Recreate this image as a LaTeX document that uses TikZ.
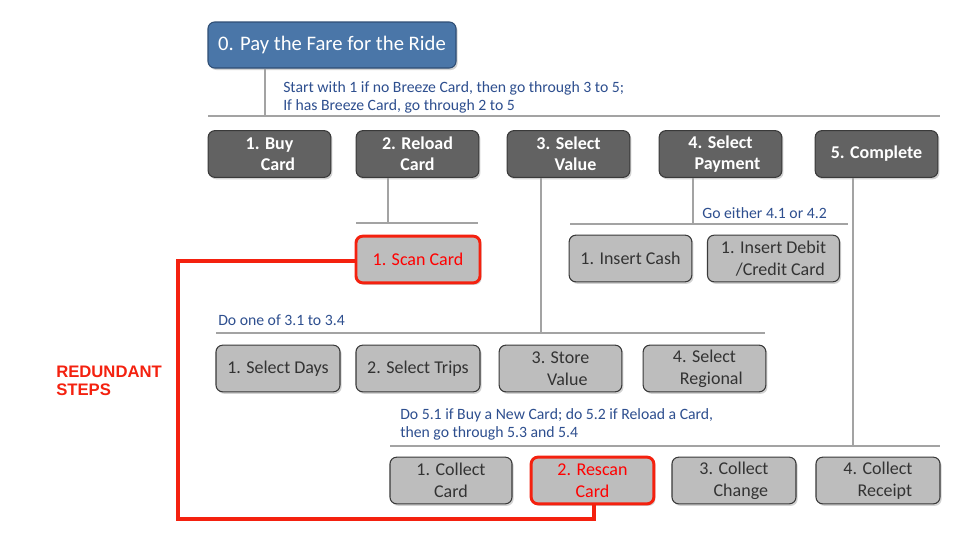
\documentclass[tikz,border=0pt]{standalone}
\usepackage{fontspec}
\setmainfont{Carlito}
\newfontfamily\labelfont{Liberation Sans}
\usetikzlibrary{shadows}
\definecolor{topblue}{HTML}{4A76A8}
\definecolor{topborder}{HTML}{2F4E74}
\definecolor{darkbox}{HTML}{626262}
\definecolor{lightbox}{HTML}{BDBDBD}
\definecolor{boxborder}{HTML}{3A3A3A}
\definecolor{linegray}{HTML}{A3A3A3}
\definecolor{notetext}{HTML}{2E4F8F}
\definecolor{hired}{HTML}{F4210F}
\tikzset{
  boxbase/.style={rounded corners=5pt, draw=boxborder, line width=0.8pt, align=center, inner sep=0pt,
    drop shadow={opacity=0.35, shadow xshift=1.2pt, shadow yshift=-1.5pt}},
  topbox/.style={boxbase, fill=topblue, draw=topborder, text=white, font=\fontsize{15.5}{18}\selectfont, minimum width=186pt, minimum height=34.5pt},
  darkstep/.style={boxbase, fill=darkbox, text=white, font=\bfseries\fontsize{13.5}{15.75}\selectfont, minimum width=92pt, minimum height=35pt},
  lightstep/.style={boxbase, fill=lightbox, text=black!80, font=\fontsize{13.5}{16.5}\selectfont, minimum height=35pt},
  redstep/.style={lightstep, draw=hired, line width=2.2pt, text=red},
  bus/.style={draw=linegray, line width=1.5pt},
  note/.style={text=notetext, font=\fontsize{11.8}{13.5}\selectfont, anchor=west, align=left, inner sep=0pt},
  redpath/.style={draw=hired, line width=3pt},
}
\begin{document}
\begin{tikzpicture}[x=0.75pt, y=-0.75pt]
\useasboundingbox[fill=white] (0,0) rectangle (960,539);

% top
\node[topbox] (n0) at (332,45) {0. Pay the Fare for the Ride};
\coordinate (b0) at (265,116);
\coordinate (busL) at (208,116);
\coordinate (busR) at (940,116);
\draw[bus] (busL) -- (busR);
\draw[bus] (n0.south -| b0) -- (b0);
\node[note] (t0) at (283,97) {Start with 1 if no Breeze Card, then go through 3 to 5;\\If has Breeze Card, go through 2 to 5};

% row 1
\node[darkstep] (s1) at (269.5,154) {1. Buy\\\phantom{1.\,}Card};
\node[darkstep] (s2) at (417.5,154) {2. Reload\\Card};
\node[darkstep] (s3) at (568.5,154) {3. Select\\\phantom{3.}Value};
\node[darkstep] (s4) at (720.5,154) {4. Select\\\phantom{4.}Payment};
\node[darkstep] (s5) at (876.5,154) {5. Complete};

% step 2 branch
\coordinate (b2) at (388,223);
\draw[bus] (s2.south -| b2) -- (b2);
\draw[bus] (356,223) coordinate (b2L) -- (478,223) coordinate (b2R);
\node[redstep, minimum width=93pt] (scan) at (418,259.5) {1. Scan Card};

% step 4 branch
\coordinate (b4) at (693,224);
\draw[bus] (s4.south -| b4) -- (b4);
\draw[bus] (570,224) coordinate (b4L) -- (848,224) coordinate (b4R);
\node[note, anchor=east] (t4) at (827,213) {Go either 4.1 or 4.2};
\node[lightstep, minimum width=92pt] (p1) at (630.5,258.5) {1. Insert Cash};
\node[lightstep, minimum width=99pt] (p2) at (773.5,258.5) {1. Insert Debit\\\phantom{1.}/Credit Card};

% step 3 branch
\coordinate (b3) at (541,333);
\draw[bus] (s3.south -| b3) -- (b3);
\draw[bus] (216,333) coordinate (b3L) -- (765,333) coordinate (b3R);
\node[note] (t3) at (218,320) {Do one of 3.1 to 3.4};
\node[lightstep, minimum width=93pt] (v1) at (278,368.5) {1. Select Days};
\node[lightstep, minimum width=93pt] (v2) at (418,368.5) {2. Select Trips};
\node[lightstep, minimum width=92pt] (v3) at (560.5,368.5) {3. Store\\\phantom{3.}Value};
\node[lightstep, minimum width=92pt] (v4) at (704.5,368.5) {4. Select\\\phantom{4.}Regional};

% step 5 branch
\coordinate (b5) at (853,446);
\draw[bus] (s5.south -| b5) -- (b5);
\draw[bus] (390,446) coordinate (b5L) -- (940,446) coordinate (b5R);
\node[note] (t5) at (400,424) {Do 5.1 if Buy a New Card; do 5.2 if Reload a Card,\\then go through 5.3 and 5.4};
\node[lightstep, minimum width=91.5pt] (c1) at (451,480.5) {1. Collect\\Card};
\node[redstep, minimum width=92pt] (c2) at (592.5,480.5) {2. Rescan\\Card};
\node[lightstep, minimum width=93pt] (c3) at (734,480.5) {3. Collect\\\phantom{3.}Change};
\node[lightstep, minimum width=93pt] (c4) at (878,480.5) {4. Collect\\\phantom{4.}Receipt};

% redundant link
\coordinate (r1) at (178,261);
\coordinate (r2) at (178,519);
\coordinate (r3) at (594,519);
\draw[redpath] (scan.west |- r1) -- (r1) -- (r2) -- (r3) -- (c2.south -| r3);
\node[text=hired, font=\labelfont\bfseries\fontsize{12.5}{13}\selectfont, anchor=west, align=left, inner sep=0pt] (red) at (56,381) {REDUNDANT\\STEPS};
\end{tikzpicture}
\end{document}
